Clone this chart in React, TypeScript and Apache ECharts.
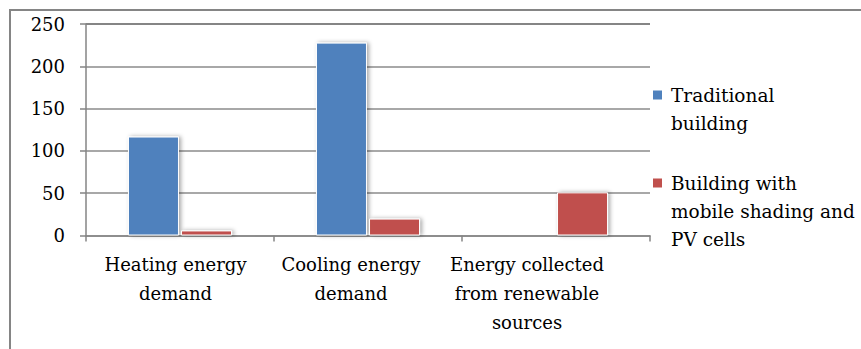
import React, { useEffect, useRef } from "react";
import * as echarts from "echarts";

const categories = [
  "Heating energy\ndemand",
  "Cooling energy\ndemand",
  "Energy collected\nfrom renewable\nsources",
];
const seriesNames = ["Traditional building", "Building with mobile shading and PV cells"];
const legendLabels = ["Traditional\nbuilding", "Building with\nmobile shading and\nPV cells"];
const traditionalValues = [117, 228, 0];
const shadedPvValues = [6, 20, 51];
const yMin = 0;
const yMax = 250;
const yInterval = 50;

const FONT = "DejaVu Serif";
const FS = 18;
const BLUE = "#4F81BD";
const RED = "#C0504D";

export default function App() {
  const ref = useRef<HTMLDivElement>(null);
  useEffect(() => {
    if (!ref.current) return;
    const chart = echarts.init(ref.current, undefined, { renderer: "svg" });
    const lh = 28;
    const iconPath = (lines: number) =>
      `path://M0,0L0.01,0M0,9.5h9v9h-9zM13,${lines * lh}L12.99,${lines * lh}`;
    const labelShift = [9, 34, 58];
    const richStyle = (i: number) => ({
      padding: [0, labelShift[i], 0, 0],
      fontFamily: FONT,
      fontSize: FS,
      lineHeight: 29,
      color: "#000",
    });
    const legendCommon = {
      orient: "vertical",
      left: 653,
      padding: 0,
      itemWidth: 13,
      itemStyle: { borderWidth: 0, shadowBlur: 0 },
      textStyle: { fontFamily: FONT, fontSize: 18.5, color: "#000", lineHeight: lh },
      formatter: (name: string) => legendLabels[seriesNames.indexOf(name)],
    };
    chart.setOption({
      animation: false,
      backgroundColor: "#fff",
      textStyle: { fontFamily: FONT },
      graphic: [
        {
          type: "rect",
          shape: { x: 10, y: 10, width: 1000, height: 1000 },
          style: { fill: "none", stroke: "#858585", lineWidth: 2 },
          silent: true,
        },
      ],
      grid: { left: 86, right: 211, top: 24, bottom: 113.5, containLabel: false },
      legend: [
        {
          ...legendCommon,
          top: 81,
          itemHeight: 2 * lh,
          data: [{ name: seriesNames[0], icon: iconPath(2) }],
        },
        {
          ...legendCommon,
          top: 169,
          itemHeight: 3 * lh,
          data: [{ name: seriesNames[1], icon: iconPath(3) }],
        },
      ],
      xAxis: {
        type: "category",
        data: categories,
        axisLine: { lineStyle: { color: "#858585", width: 1.5 } },
        axisTick: { show: true, length: 6, lineStyle: { color: "#858585", width: 1.5 } },
        axisLabel: {
          interval: 0,
          hideOverlap: false,
          margin: 14,
          color: "#000",
          fontFamily: FONT,
          fontSize: FS,
          lineHeight: 29,
          formatter: (v: string, i: number) => `{c${i}|${v}}`,
          rich: { c0: richStyle(0), c1: richStyle(1), c2: richStyle(2) },
        },
      },
      yAxis: {
        type: "value",
        min: yMin,
        max: yMax,
        interval: yInterval,
        axisLine: { show: true, lineStyle: { color: "#858585", width: 1.5 } },
        axisTick: { show: true, length: 6, lineStyle: { color: "#858585", width: 1.5 } },
        axisLabel: { margin: 21, color: "#000", fontFamily: FONT, fontSize: FS },
        splitLine: {
          show: true,
          lineStyle: {
            color: ["#a8a8a8", "#a8a8a8", "#a8a8a8", "#a8a8a8", "#a8a8a8", "#858585"],
            width: 2,
          },
        },
      },
      series: [
        {
          name: seriesNames[0],
          type: "bar",
          data: traditionalValues,
          barWidth: 51,
          barGap: "4%",
          itemStyle: {
            color: BLUE,
            borderColor: "#fff",
            borderWidth: 1,
            shadowBlur: 4,
            shadowColor: "rgba(0,0,0,0.35)",
            shadowOffsetX: 2,
          },
        },
        {
          name: seriesNames[1],
          type: "bar",
          data: shadedPvValues,
          barWidth: 51,
          barGap: "4%",
          itemStyle: {
            color: RED,
            borderColor: "#fff",
            borderWidth: 1,
            shadowBlur: 4,
            shadowColor: "rgba(0,0,0,0.35)",
            shadowOffsetX: 2,
          },
        },
      ],
    });
    return () => chart.dispose();
  }, []);
  return (
    <div
      ref={ref}
      style={{ position: "absolute", left: 0, top: 0, width: 861, height: 349 }}
    />
  );
}
